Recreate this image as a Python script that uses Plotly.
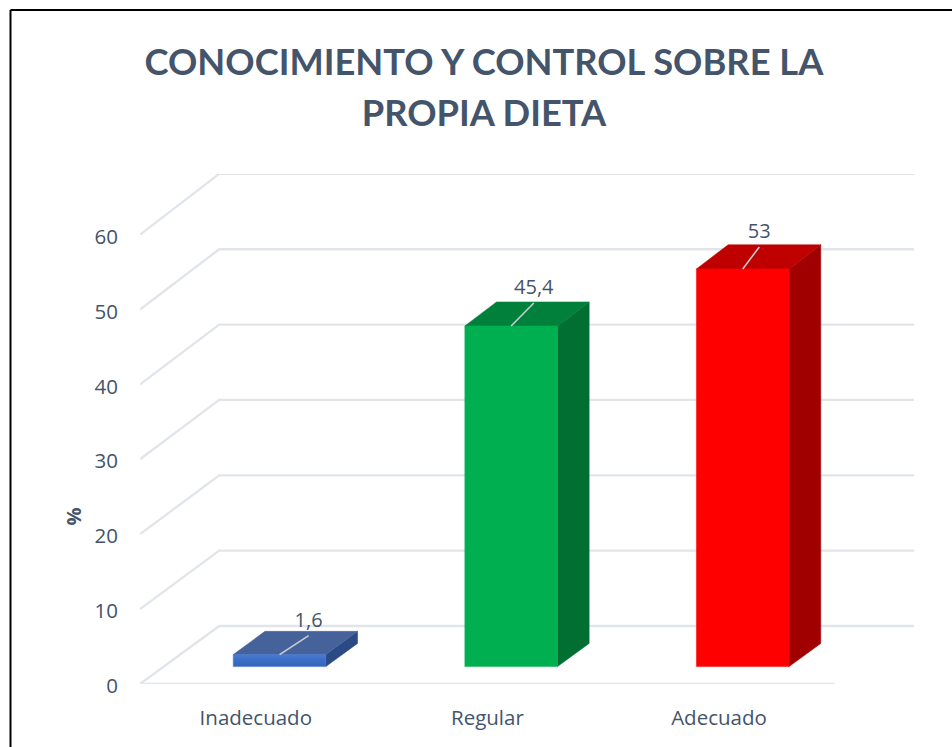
import plotly.graph_objects as go

categories = ["Inadecuado", "Regular", "Adecuado"]
values = [1.6, 45.4, 53]
value_labels = ["1,6", "45,4", "53"]
y_ticks = [0, 10, 20, 30, 40, 50, 60]

front_colors = ["#3D6FC8", "#00B050", "#FF0000"]
top_colors = ["#46629B", "#00803A", "#BF0000"]
side_colors = ["#2A4A86", "#006F31", "#A00000"]
TEXT = "#44546A"
GRID = "#E1E5EA"

W, H = 952, 747
L, R, T, B = 140, 914, 174, 684
PX = 7.49            # pixels per value unit on the front plane
DEPTH_Y = 58 / PX    # value units climbed from front to back wall
DEPTH_X = 79 / 231   # category units moved from front to back wall
PERSP = 0.006
BAR_W = 0.4
D0, D1 = 0.30, 0.70
# leader-line reach (pixels right, pixels up) from the bar's top front edge
leader_dx = [29, 22.6, 16.5]
leader_dy = [19, 23, 22]
LABEL_GAP = 4  # pixels between leader end and its label


def proj(cat, val, d):
    return cat + d * DEPTH_X, val * (1 + PERSP * d) + d * DEPTH_Y


def poly(fig, pts, color, **kw):
    xs = [p[0] for p in pts] + [pts[0][0]]
    ys = [p[1] for p in pts] + [pts[0][1]]
    fig.add_trace(go.Scatter(x=xs, y=ys, mode="lines", fill="toself", fillcolor=color,
                             line=dict(color=color, width=0.5), hoverinfo="skip",
                             cliponaxis=False, showlegend=False, **kw))


fig = go.Figure()

# walls: grid lines on the left wall and back wall, plus the front floor edge
gx, gy = [], []
for v in y_ticks:
    for a, d in [(-0.5, 0), (-0.5, 1), (2.5, 1)]:
        x, y = proj(a, v, d)
        gx.append(x)
        gy.append(y)
    gx.append(None)
    gy.append(None)
for a in (-0.5, 2.5):
    x, y = proj(a, 0, 0)
    gx.append(x)
    gy.append(y)
fig.add_trace(go.Scatter(x=gx, y=gy, mode="lines", line=dict(color=GRID, width=2.3),
                         hoverinfo="skip", cliponaxis=False, showlegend=False))

lx, ly, tx, ty = [], [], [], []
for i, (cat, val) in enumerate(zip(categories, values)):
    a, b = i - BAR_W / 2, i + BAR_W / 2
    side = [proj(b, 0, D0), proj(b, 0, D1), proj(b, val, D1), proj(b, val, D0)]
    top = [proj(a, val, D0), proj(b, val, D0), proj(b, val, D1), proj(a, val, D1)]
    front = [proj(a, 0, D0), proj(b, 0, D0), proj(b, val, D0), proj(a, val, D0)]
    poly(fig, side, side_colors[i])
    poly(fig, top, top_colors[i])
    if i == 0:
        poly(fig, front, front_colors[i],
             fillgradient=dict(type="vertical",
                               colorscale=[[0, "#3566BC"], [0.6, "#3D6FC8"], [1, "#4A7CD2"]]))
    else:
        poly(fig, front, front_colors[i])
    # leader line from the top of the bar to its label
    x0, y0 = proj(i, val, D0)
    x1 = x0 + leader_dx[i] / 231
    y1 = y0 + leader_dy[i] / PX
    lx += [x0, x1, None]
    ly += [y0, y1, None]
    tx.append(x1)
    ty.append(y1 + LABEL_GAP / PX)

fig.add_trace(go.Scatter(x=lx, y=ly, mode="lines", line=dict(color="#C9CDD3", width=1.6),
                         hoverinfo="skip", cliponaxis=False, showlegend=False))
fig.add_trace(go.Scatter(x=tx, y=ty, mode="text", text=value_labels, textposition="top center",
                         textfont=dict(family="Open Sans", size=20, color=TEXT),
                         hoverinfo="skip", cliponaxis=False, showlegend=False))

fig.update_layout(
    width=W, height=H, autosize=False,
    margin=dict(l=L, r=W - R, t=T, b=H - B, pad=0),
    paper_bgcolor="white", plot_bgcolor="white",
    font=dict(family="Open Sans", color=TEXT, size=20),
    title=dict(text="<span style=\"font-size:36.3px\"><b>CONOCIMIENTO Y CONTROL SOBRE LA</b></span><br>"
                    "<span style=\"font-size:36.3px\"><b>PROPIA DIETA</b></span>",
               xref="container", yref="container",
               x=484 / W, xanchor="center", y=1 - 75 / H, yanchor="top",
               font=dict(family="Lato", size=39, color=TEXT)),
    xaxis=dict(range=[-0.5, 2.5 + DEPTH_X], tickvals=[0, 1, 2], ticktext=categories,
               showgrid=False, zeroline=False, showline=False,
               ticks="outside", ticklen=15, tickcolor="rgba(0,0,0,0)",
               tickfont=dict(family="Open Sans", size=20.5, color=TEXT)),
    yaxis=dict(range=[0, (B - T) / PX], tickvals=y_ticks,
               showgrid=False, zeroline=False, showline=False,
               ticks="outside", ticklen=17, tickcolor="rgba(0,0,0,0)", ticklabelshift=2,
               tickfont=dict(family="Open Sans", size=20.5, color=TEXT)),
    annotations=[dict(text="<b>%</b>", textangle=-90, showarrow=False,
                      xref="paper", x=(72.5 - L) / (R - L), xanchor="center",
                      yref="paper", y=(B - 517) / (B - T), yanchor="middle",
                      font=dict(family="Open Sans", size=20, color=TEXT))],
    shapes=[
        dict(type="line", xref="paper", yref="paper",
             x0=(10.5 - L) / (R - L), x1=(W - L) / (R - L),
             y0=(B - 10) / (B - T), y1=(B - 10) / (B - T),
             line=dict(color="black", width=2)),
        dict(type="line", xref="paper", yref="paper",
             x0=(10.5 - L) / (R - L), x1=(10.5 - L) / (R - L),
             y0=(B - 10) / (B - T), y1=(B - H) / (B - T),
             line=dict(color="black", width=2)),
    ],
)

fig.write_html("out.html", config={"displayModeBar": False},
               post_script="document.body.style.margin='0';document.body.style.overflow='hidden';")
